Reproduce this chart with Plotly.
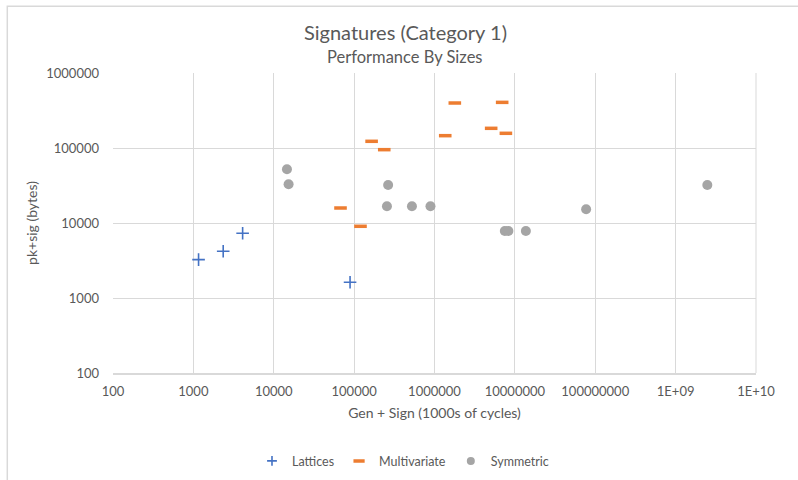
import plotly.graph_objects as go

# Signature schemes: combined keygen+sign cost (1000s of cycles) vs. pk+sig size (bytes)
lattice_cycles = [1160, 2350, 4100, 89000]
lattice_bytes = [3250, 4200, 7300, 1620]

multivariate_cycles = [67700, 120000, 165000, 237000, 1360000, 1790000, 5070000, 6950000, 7730000]
multivariate_bytes = [15850, 9040, 122800, 95000, 146000, 398000, 183000, 406000, 157000]

symmetric_cycles = [14600, 15300, 265000, 256000, 524000, 891000, 7500000, 8300000, 13700000, 77000000, 2480000000]
symmetric_bytes = [52000, 32800, 32100, 16700, 16700, 16700, 7820, 7820, 7820, 15240, 32100]

x_tick_vals = [1e2, 1e3, 1e4, 1e5, 1e6, 1e7, 1e8, 1e9, 1e10]
x_tick_text = ["100", "1000", "10000", "100000", "1000000", "10000000", "100000000", "1E+09", "1E+10"]
y_tick_vals = [1e2, 1e3, 1e4, 1e5, 1e6]
y_tick_text = ["100", "1000", "10000", "100000", "1000000"]

FONT = "Lato, 'Open Sans', sans-serif"
TEXT = "#595959"
GRID = "#D9D9D9"

series = [
    ("Lattices", lattice_cycles, lattice_bytes,
     dict(symbol="cross-thin-open", size=9, color="#4472C4", line=dict(width=1.6, color="#4472C4")),
     dict(symbol="cross-thin-open", size=7, color="#4472C4", line=dict(width=1.6, color="#4472C4"))),
    ("Multivariate", multivariate_cycles, multivariate_bytes,
     dict(symbol="line-ew-open", size=9, color="#ED7D31", line=dict(width=3.5, color="#ED7D31")),
     dict(symbol="line-ew-open", size=8, color="#ED7D31", line=dict(width=3.5, color="#ED7D31"))),
    ("Symmetric", symmetric_cycles, symmetric_bytes,
     dict(symbol="circle", size=10, color="#A5A5A5", line=dict(width=0)),
     dict(symbol="circle", size=8, color="#A5A5A5", line=dict(width=0))),
]

fig = go.Figure()
for name, xs, ys, mk, legend_mk in series:
    # data points
    fig.add_trace(go.Scatter(x=xs, y=ys, mode="markers", name=name,
                             marker=mk, showlegend=False))
    # legend entry with a smaller symbol
    fig.add_trace(go.Scatter(x=[None], y=[None], mode="markers", name=name,
                             marker=legend_mk, showlegend=True))

ml, mr, mt, mb = 112.7, 42.3, 72.7, 107.3
pw, ph = 798 - ml - mr, 480 - mt - mb

def px_x(p):
    return (p - ml) / pw

def px_y(p):
    return (480 - mb - p) / ph

fig.update_layout(
    width=798, height=480,
    margin=dict(l=ml, r=mr, t=mt, b=mb, pad=0, autoexpand=False),
    paper_bgcolor="white", plot_bgcolor="white",
    font=dict(family=FONT, color=TEXT, size=13),
    showlegend=True,
    legend=dict(orientation="h", x=0.451, xanchor="center", y=px_y(461), yanchor="middle",
                font=dict(size=12.5, color=TEXT), itemwidth=30, tracegroupgap=0,
                bgcolor="rgba(0,0,0,0)"),
    xaxis=dict(type="log", range=[2, 10], tickvals=x_tick_vals, ticktext=x_tick_text,
               showgrid=True, gridcolor=GRID, gridwidth=1, zeroline=False,
               showline=True, linecolor=GRID, linewidth=1.5, mirror=False,
               ticks="", ticklabelstandoff=6, tickfont=dict(size=13, color=TEXT),
               title=dict(text="Gen + Sign (1000s of cycles)", font=dict(size=14, color=TEXT), standoff=10)),
    yaxis=dict(type="log", range=[2, 6], tickvals=y_tick_vals, ticktext=y_tick_text,
               showgrid=True, gridcolor=GRID, gridwidth=1, zeroline=False,
               showline=False, ticks="", ticklabelstandoff=13,
               tickfont=dict(size=13, color=TEXT),
               title=dict(text="pk+sig (bytes)", font=dict(size=14, color=TEXT), standoff=5)),
    annotations=[
        dict(text="Signatures (Category 1)", xref="paper", yref="paper",
             x=px_x(405), y=px_y(31.5), xanchor="center", yanchor="middle",
             showarrow=False, font=dict(size=20, color=TEXT, family=FONT)),
        dict(text="Performance By Sizes", xref="paper", yref="paper",
             x=px_x(405), y=px_y(57), xanchor="center", yanchor="middle",
             showarrow=False, font=dict(size=16.5, color=TEXT, family=FONT)),
    ],
    shapes=[
        dict(type="rect", xref="paper", yref="paper",
             x0=px_x(7), y0=px_y(490), x1=px_x(810), y1=px_y(6),
             line=dict(color="#D9D9D9", width=1.5), fillcolor="rgba(0,0,0,0)", layer="below"),
        dict(type="line", xref="paper", yref="paper", x0=1, x1=1, y0=0, y1=1,
             line=dict(color=GRID, width=1), layer="below"),
    ],
)

fig.write_html("out.html")
